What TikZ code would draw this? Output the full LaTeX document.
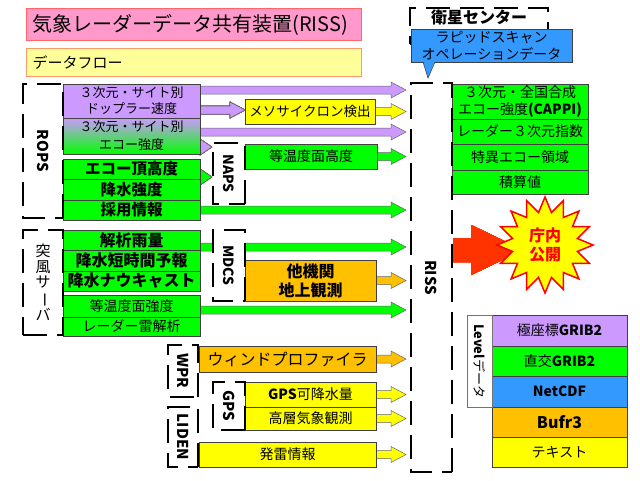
\documentclass[tikz,border=0pt]{standalone}
\usepackage{fontspec}
\setmainfont{Noto Sans CJK JP}
\usepackage{graphicx}
\usetikzlibrary{positioning,calc,shapes.geometric,backgrounds}

\definecolor{purp}{HTML}{CC99FF}
\definecolor{grn}{HTML}{00FF00}
\definecolor{yel}{HTML}{FFFF00}
\definecolor{org}{HTML}{FFC000}
\definecolor{blu}{HTML}{3399FF}
\definecolor{pnk}{HTML}{FF99CC}
\definecolor{pnkline}{HTML}{FF6666}
\definecolor{lyel}{HTML}{FFFF99}
\definecolor{lyelline}{HTML}{FF9966}
\definecolor{redarr}{HTML}{FF3300}

\newcommand{\fsz}[2]{\fontsize{#1pt}{#2pt}\selectfont}
% block arrow: fill, start point, point that gives the tip x
\newcommand{\flow}[3]{\path[flowarr, fill=#1] let \p1=(#2), \p2=(#3) in
  (\x1,\y1+4pt) -- (\x2-15pt,\y1+4pt) -- (\x2-15pt,\y1+8pt) -- (\x2,\y1)
  -- (\x2-15pt,\y1-8pt) -- (\x2-15pt,\y1-4pt) -- (\x1,\y1-4pt) -- cycle;}
% head only
\newcommand{\tip}[3]{\path[flowarr, fill=#1] let \p1=(#2), \p2=(#3) in
  (\x1,\y1+8pt) -- (\x2,\y1) -- (\x1,\y1-8pt) -- cycle;}

\begin{document}
\begin{tikzpicture}[
  x=1pt, y=-1pt,
  box/.style={draw=black!75, line width=0.6pt, inner sep=0pt, outer sep=0pt,
              align=center, font=\fsz{14}{17}},
  lbox/.style={box, minimum width=137pt, minimum height=20pt},
  mbox/.style={box, minimum width=131pt, minimum height=25pt},
  rbox/.style={box, minimum width=136pt},
  vbox/.style={box, minimum width=135pt, minimum height=30pt},
  frame/.style={draw, fill=white, line width=2.4pt, dash pattern=on 24pt off 10pt,
                inner sep=0pt, font=\bfseries\fsz{15}{17}},
  flowarr/.style={draw=black!60, line width=0.5pt},
  big/.style={font=\bfseries\fsz{16}{18}},
]
\path[use as bounding box] (0,0) rectangle (640,480);

% ---------- heading ----------
\node[draw=pnkline, line width=1pt, fill=pnk, minimum width=335pt, minimum height=32pt,
      text width=323pt, inner xsep=6pt, anchor=north west, font=\fsz{20}{22}]
      (title) at (26,8) {気象レーダーデータ共有装置(RISS)};
\node[draw=lyelline, line width=1pt, fill=lyel, minimum width=335pt, minimum height=28pt,
      text width=323pt, inner xsep=6pt, anchor=north west, font=\fsz{15}{17}]
      (flowt) at (26,48) {データフロー};

% ---------- satellite ----------
\node[frame, minimum width=138pt, minimum height=36pt] (eisei) at (479,26) {};
\node[font=\bfseries\fsz{16}{18}] (eiseit) at (479,17.5) {衛星センター};
\node[box, minimum width=161pt, minimum height=33pt, fill=blu, font=\fsz{14}{16.5}]
      (rapid) at (491.5,45.5) {ラピッドスキャン\\オペレーションデータ};
\fill[blu] ([xshift=12pt,yshift=1pt]rapid.south west) -- ([xshift=17pt,yshift=-16pt]rapid.south west)
  -- ([xshift=24pt,yshift=1pt]rapid.south west) -- cycle;
\draw[black!75, line width=0.6pt] ([xshift=12pt]rapid.south west) -- ([xshift=17pt,yshift=-16pt]rapid.south west)
  -- ([xshift=24pt]rapid.south west);

% ---------- ROPS ----------
\node[lbox, minimum height=34pt, fill=purp, font=\fsz{13}{16}] (dop) at (131.5,101)
      {３次元・サイト別\\ドップラー速度};
\node[lbox, minimum height=36pt, top color=purp, bottom color=grn, font=\fsz{13}{18},
      below=0pt of dop] (ech) {３次元・サイト別\\エコー強度};
\node[lbox, fill=grn, font=\bfseries\fsz{15.5}{17}] (eto) at (131.5,169) {エコー頂高度};
\node[lbox, minimum height=21pt, fill=grn, font=\bfseries\fsz{15.5}{17}, below=0pt of eto] (kou) {降水強度};
\node[lbox, fill=grn, font=\bfseries\fsz{15.5}{17}, below=0pt of kou] (sai) {採用情報};

\node[mbox, minimum width=130pt, fill=yel, font=\fsz{13.5}{16}] (meso) at (310,111.5) {メソサイクロン検出};
\node[mbox, minimum width=132pt, fill=grn] (tou2) at (311,156.5) {等温度面高度};

% ---------- gust server ----------
\node[lbox, fill=grn, big] (kai) at (131.5,240) {解析雨量};
\node[lbox, minimum height=21pt, fill=grn, big, below=0pt of kai] (tan) {降水短時間予報};
\node[lbox, fill=grn, big, below=0pt of tan] (now) {降水ナウキャスト};
\node[lbox, minimum height=22pt, fill=grn] (tou) at (131.5,306) {等温度面強度};
\node[lbox, minimum height=19pt, fill=grn, below=0pt of tou] (rai) {レーダー雷解析};
\node[mbox, minimum height=41pt, fill=org, font=\bfseries\fsz{16}{19}] (tak) at (310.5,280.5) {他機関\\地上観測};

% ---------- WPR / GPS / LIDEN ----------
\node[box, minimum width=177pt, minimum height=26pt, fill=org, font=\fsz{16}{18}] (wind) at (287.5,359) {ウィンドプロファイラ};
\node[mbox, fill=yel] (gpsb) at (310.5,394.5) {\textbf{GPS}可降水量};
\node[mbox, minimum height=23pt, fill=yel, below=0pt of gpsb] (kousou) {高層気象観測};
\node[box, minimum width=177pt, minimum height=25pt, fill=yel] (hatsu) at (287.5,454.5) {発雷情報};

% ---------- RISS products ----------
\node[rbox, minimum height=35pt, fill=grn] (cappi) at (520,101.5) {３次元・全国合成\\エコー強度\textbf{(CAPPI)}};
\node[rbox, minimum height=25pt, fill=grn, below=0pt of cappi] (idx) {レーダー３次元指数};
\node[rbox, minimum height=26pt, fill=grn, below=0pt of idx] (tokui) {特異エコー領域};
\node[rbox, minimum height=24pt, fill=grn, below=0pt of tokui] (seki) {積算値};

% ---------- frames ----------
\node[frame, rotate=-90, minimum width=134pt, minimum height=40pt] (rops) at (43,151) {ROPS};
\node[frame, minimum width=40pt, minimum height=105pt, font=\fsz{15}{15.5}, align=center]
      (toppu) at (43,282.5) {突\\風\\サ\\\rotatebox[origin=c]{-90}{ー}\\バ};
\node[frame, rotate=-90, minimum width=61pt, minimum height=32pt, font=\bfseries\fsz{14}{16}] (naps) at (229,173.5) {NAPS};
\node[frame, rotate=-90, minimum width=71pt, minimum height=32pt, font=\bfseries\fsz{14}{16}] (mdcs) at (229,265.5) {MDCS};
\node[frame, rotate=-90, minimum width=52pt, minimum height=30pt] (wpr) at (183,371) {WPR};
\node[frame, rotate=-90, minimum width=48pt, minimum height=32pt] (gps) at (229,406) {GPS};
\node[frame, rotate=-90, minimum width=60pt, minimum height=30pt] (liden) at (183,437) {LIDEN};
\node[frame, rotate=-90, minimum width=389pt, minimum height=41pt] (riss) at (431.5,277.5) {RISS};

% ---------- public release ----------
\node[star, star points=16, star point ratio=1.45, minimum size=96pt, draw=red, line width=1.5pt,
      fill=yel, inner sep=0pt, text=red, align=center, font=\bfseries\fsz{16}{19}]
      (star) at (545,245) {庁内\\公開};

% ---------- level data ----------
\node[vbox, minimum height=31pt, fill=purp] (lv1) at (559.5,330.5) {極座標\textbf{GRIB2}};
\node[vbox, fill=grn, below=0pt of lv1] (lv2) {直交\textbf{GRIB2}};
\node[vbox, minimum height=31pt, fill=blu, below=0pt of lv2] (lv3) {\textbf{NetCDF}};
\node[vbox, fill=org, big, below=0pt of lv3] (lv4) {Bufr3};
\node[vbox, fill=yel, below=0pt of lv4] (lv5) {テキスト};
\node[box, draw=black!55, fill=white, rotate=-90, minimum width=92pt, minimum height=25pt,
      font=\fsz{13}{15}] (lvl) at (479.5,361) {\textbf{Level}データ};

% ---------- arrows ----------
\coordinate (tipx) at (406,0);
\coordinate (a1) at ([yshift=11pt]dop.east);
\coordinate (a2) at ([yshift=-9pt]dop.east);
\coordinate (a3) at ([yshift=4pt]ech.east);
\coordinate (h1) at ([yshift=-11pt]ech.east);
\coordinate (h2) at ([yshift=2pt]eto.south east);
\coordinate (a4) at ([yshift=-7pt]kai.east);
\coordinate (a5) at ([yshift=-4pt]tou.east);
\begin{scope}[on background layer]
  \fill[white] (0,0) rectangle (640,480);
  \foreach \s/\c in {a1/purp, a3/purp, meso.east/yel, tou2.east/grn, sai.east/grn,
                     a4/grn, tak.east/org, a5/grn, wind.east/org, gpsb.east/yel,
                     kousou.east/yel, hatsu.east/yel}
    \flow{\c}{\s}{tipx}
  \flow{purp}{a2}{meso.west}
  \tip{purp}{h1}{naps.south}
  \tip{grn}{h2}{naps.south}
  % to the public release
  \path[fill=redarr] let \p1=(riss.north), \p2=(star.center) in
    (\x1,\y2+7pt) -- (\x1+18pt,\y2+7pt) -- (\x1+18pt,\y2+20pt) -- (\x1+70pt,\y2-5pt)
    -- (\x1+18pt,\y2-30pt) -- (\x1+18pt,\y2-17pt) -- (\x1,\y2-17pt) -- cycle;
\end{scope}

\end{tikzpicture}
\end{document}
